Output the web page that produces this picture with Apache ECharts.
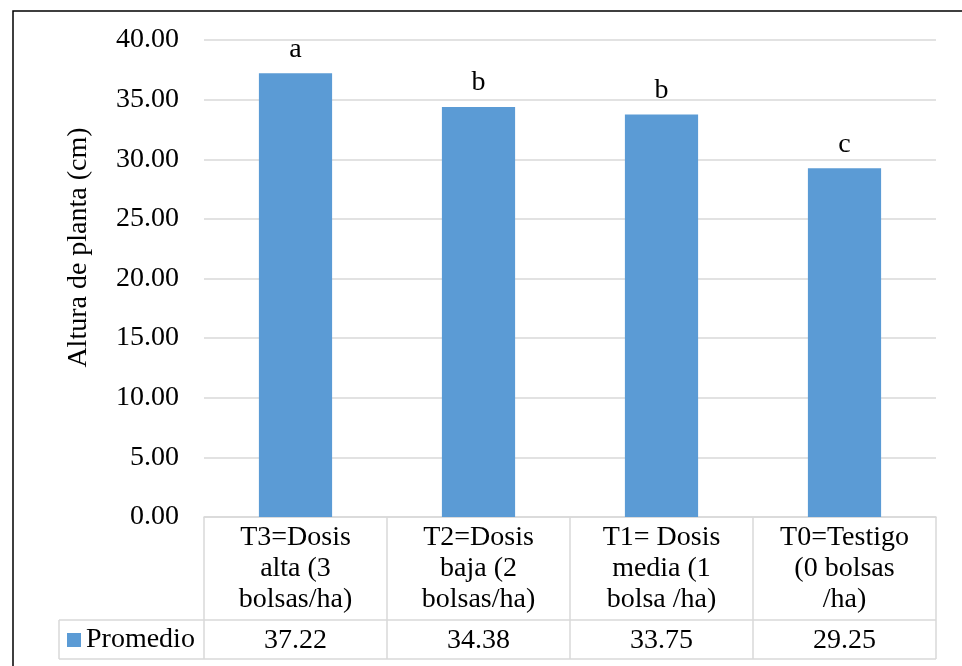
<!DOCTYPE html>
<html>
<head>
<meta charset="utf-8">
<script src="https://cdn.jsdelivr.net/npm/echarts@6/dist/echarts.min.js"></script>
<style>html,body{margin:0;padding:0;background:#fff}#c{width:962px;height:666px}</style>
</head>
<body>
<div id="c"></div>
<script>
const categories = ["T3=Dosis\nalta (3\nbolsas/ha)", "T2=Dosis\nbaja (2\nbolsas/ha)", "T1= Dosis\nmedia (1\nbolsa /ha)", "T0=Testigo\n(0 bolsas\n/ha)"];
const promedio = [37.22, 34.38, 33.75, 29.25];
const letters = ["a", "b", "b", "c"];
const yTicks = [0, 5, 10, 15, 20, 25, 30, 35, 40];
const seriesName = "Promedio";
const axisTitle = "Altura de planta (cm)";

const FONT = '"Liberation Serif", "Times New Roman", serif';
const FS = 28;
const GRID = '#d9d9d9';

const chart = echarts.init(document.getElementById('c'), null, {renderer: 'canvas'});
chart.setOption({
  animation: false,
  textStyle: {fontFamily: FONT},
  grid: {left: 204, right: 26, top: 40, bottom: 149, containLabel: false},
  legend: {
    show: true, data: [seriesName], left: 67, top: 626, icon: 'rect',
    itemWidth: 14, itemHeight: 14, itemGap: 5, padding: 0,
    textStyle: {fontFamily: FONT, fontSize: FS, color: '#000', padding: [2, 0, 0, 0]}
  },
  xAxis: [{
    type: 'category', data: categories, position: 'bottom',
    axisLine: {show: true, lineStyle: {color: GRID, width: 1.5}},
    axisTick: {show: true, length: 142, lineStyle: {color: GRID, width: 1.5}, alignWithLabel: false},
    axisLabel: {fontFamily: FONT, fontSize: FS, color: '#000', lineHeight: 31, margin: 5, interval: 0}
  }, {
    type: 'category', data: promedio.map(v => v.toFixed(2)), position: 'bottom', offset: 103,
    axisLine: {show: false}, axisTick: {show: false},
    axisLabel: {fontFamily: FONT, fontSize: FS, color: '#000', lineHeight: 31, margin: 5, interval: 0}
  }],
  yAxis: {
    type: 'value', min: yTicks[0], max: yTicks[yTicks.length - 1], interval: 5,
    name: axisTitle, nameLocation: 'middle', nameGap: 111,
    nameTextStyle: {fontFamily: FONT, fontSize: FS, color: '#000', padding: [0, 0, 0, 62]},
    axisLine: {show: false}, axisTick: {show: false},
    axisLabel: {fontFamily: FONT, fontSize: FS, color: '#000', margin: 25, formatter: v => v.toFixed(2)},
    splitLine: {lineStyle: {color: GRID, width: 1.5}}
  },
  series: [{
    name: seriesName, type: 'bar', data: promedio, barWidth: '40%', xAxisIndex: 0,
    itemStyle: {color: '#5B9BD5'},
    label: {show: true, position: 'top', distance: 10, fontFamily: FONT, fontSize: FS, color: '#000',
      formatter: p => letters[p.dataIndex]}
  }],
  graphic: [
    {type: 'line', silent: true, shape: {x1: 59, y1: 620, x2: 936, y2: 620}, style: {stroke: GRID, lineWidth: 1.5}},
    {type: 'line', silent: true, shape: {x1: 59, y1: 659, x2: 936, y2: 659}, style: {stroke: GRID, lineWidth: 1.5}},
    {type: 'line', silent: true, shape: {x1: 59, y1: 620, x2: 59, y2: 659}, style: {stroke: GRID, lineWidth: 1.5}},
    {type: 'rect', silent: true, shape: {x: 13, y: 11, width: 980, height: 700}, style: {fill: 'none', stroke: '#000', lineWidth: 1.5}}
  ]
});
</script>
</body>
</html>
